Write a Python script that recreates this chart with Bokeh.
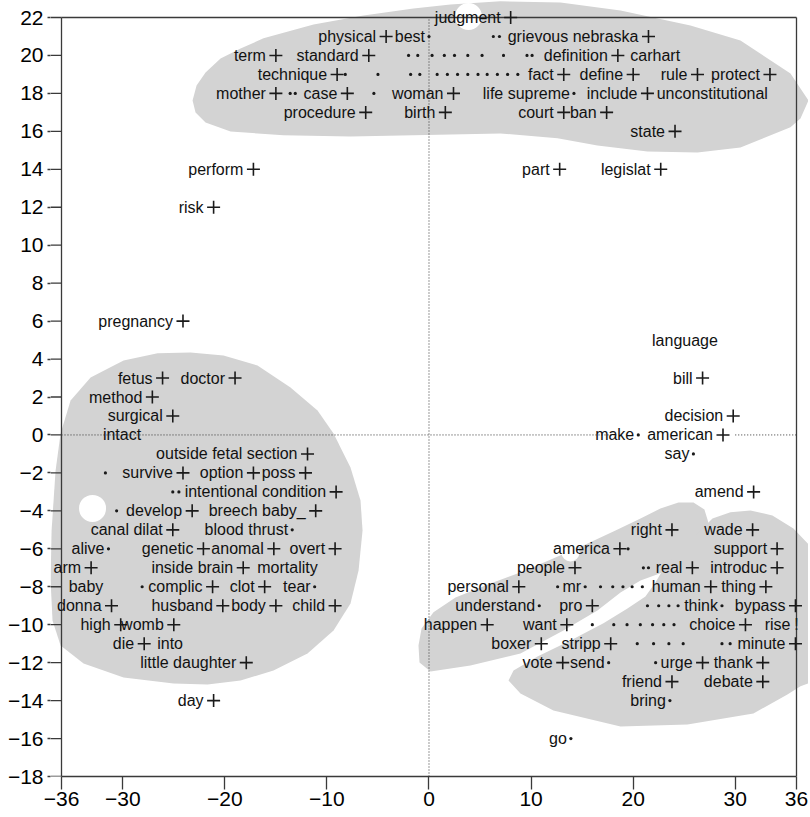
from bokeh.plotting import figure
from bokeh.models import Range1d, ColumnDataSource, LabelSet, FixedTicker
from bokeh.embed import file_html
from bokeh.resources import INLINE
from bokeh.core.properties import value

# ---------------- data ----------------
x_ticks = [-36, -30, -20, -10, 0, 10, 20, 30, 36]
y_ticks = [-18, -16, -14, -12, -10, -8, -6, -4, -2, 0, 2, 4, 6, 8, 10, 12, 14, 16, 18, 20, 22]

# word labels: text, x, y, marker ("+" cross, "." dot, "" none, "!" bang)
words = [
    "judgment",
    "physical", "best", "", "", "grievous nebraska",
    "term", "standard", "", "", "", "", "", "", "", "", "", "", "definition", "carhart",
    "technique", "", "", "", "", "", "", "", "", "", "", "", "", "", "fact", "define", "rule", "protect",
    "mother", "", "", "case", "", "woman", "life supreme", "include", "unconstitutional",
    "procedure", "birth", "court", "ban",
    "state",
    "perform", "part", "legislat",
    "risk",
    "pregnancy",
    "language",
    "fetus", "doctor", "bill",
    "method",
    "surgical", "decision",
    "intact", "make", "american",
    "outside fetal section", "say",
    "", "survive", "option", "poss",
    "", "", "intentional condition", "amend",
    "", "develop", "breech baby_",
    "canal dilat", "blood thrust", "right", "wade",
    "alive", "genetic", "anomal", "overt", "america", "", "support",
    "arm", "inside brain", "mortality", "people", "", "", "real", "introduc",
    "baby", "", "complic", "clot", "tear", "personal", "", "mr", "", "", "", "", "", "human", "thing",
    "donna", "husband", "body", "child", "understand", "pro", "", "", "", "", "think", "bypass",
    "high", "womb", "happen", "want", "", "", "", "", "", "", "", "choice", "rise",
    "die", "into", "boxer", "stripp", "", "", "", "", "", "", "minute",
    "little daughter", "vote", "send", "", "urge", "thank",
    "friend", "debate",
    "day", "bring",
    "go",
]
word_x = [
    8.0,
    -4.2, 0.0, 6.3, 6.9, 21.5,
    -15.0, -5.9, -2.0, -1.1, 0.3, 1.5, 2.5, 3.8, 5.2, 7.3, 9.6, 10.1, 18.5, 24.6,
    -9.0, -8.2, -5.0, -1.8, -0.9, 0.8, 1.8, 2.8, 3.8, 4.8, 5.7, 6.7, 7.7, 8.7, 13.2, 20.0, 26.3, 33.4,
    -15.0, -13.6, -13.1, -8.0, -5.4, 2.4, 14.2, 21.4, 33.2,
    -6.2, 1.6, 13.2, 17.4,
    24.1,
    -17.2, 12.8, 22.7,
    -21.1,
    -24.1,
    28.3,
    -26.1, -19.0, 26.8,
    -27.1,
    -25.1, 29.8,
    -28.2, 20.5, 28.8,
    -11.9, 25.9,
    -31.7, -24.1, -17.2, -12.1,
    -25.1, -24.5, -9.1, 31.8,
    -30.6, -23.2, -11.1,
    -25.1, -13.4, 23.8, 31.7,
    -31.4, -22.1, -15.2, -9.2, 18.7, 19.5, 34.1,
    -33.1, -18.2, -10.9, 14.3, 21.0, 21.5, 25.8, 34.1,
    -31.9, -28.1, -21.2, -16.1, -11.2, 8.8, 12.6, 15.3, 16.8, 18.0, 19.0, 19.9, 20.9, 27.6, 33.0,
    -31.1, -20.2, -15.0, -9.2, 10.8, 16.0, 21.4, 22.5, 23.5, 24.4, 28.7, 35.9,
    -30.2, -25.0, 5.7, 13.5, 16.0, 18.1, 19.4, 20.7, 21.9, 23.0, 24.0, 31.0, 36.0,
    -27.9, -24.1, 11.0, 17.8, 20.4, 22.0, 23.5, 24.9, 28.7, 29.5, 35.9,
    -17.9, 13.1, 17.6, 22.2, 26.8, 32.7,
    23.8, 32.7,
    -21.1, 23.6,
    13.9,
]
word_y = (
    [22]
    + [21] * 5
    + [20] * 14
    + [19] * 18
    + [18] * 9
    + [17] * 4
    + [16]
    + [14] * 3
    + [12]
    + [6]
    + [5]
    + [3] * 3
    + [2]
    + [1] * 2
    + [0] * 3
    + [-1] * 2
    + [-2] * 4
    + [-3] * 4
    + [-4] * 3
    + [-5] * 4
    + [-6] * 7
    + [-7] * 8
    + [-8] * 15
    + [-9] * 12
    + [-10] * 13
    + [-11] * 11
    + [-12] * 6
    + [-13] * 2
    + [-14] * 2
    + [-16]
)
word_mark = [
    "+",
    "+", ".", ".", ".", "+",
    "+", "+", ".", ".", ".", ".", ".", ".", ".", ".", ".", ".", "+", "",
    "+", ".", ".", ".", ".", ".", ".", ".", ".", ".", ".", ".", ".", ".", "+", "+", "+", "+",
    "+", ".", ".", "+", ".", "+", ".", "+", "",
    "+", "+", "+", "+",
    "+",
    "+", "+", "+",
    "+",
    "+",
    "",
    "+", "+", "+",
    "+",
    "+", "+",
    "", ".", "+",
    "+", ".",
    ".", "+", "+", "+",
    ".", ".", "+", "+",
    ".", "+", "+",
    "+", ".", "+", "+",
    ".", "+", "+", "+", "+", ".", "+",
    "+", "+", "", "+", ".", ".", "+", "+",
    "", ".", "+", "+", ".", "+", ".", ".", ".", ".", ".", ".", ".", "+", "+",
    "+", "+", "+", "+", ".", "+", ".", ".", ".", ".", ".", "+",
    "+", "+", "+", "+", ".", ".", ".", ".", ".", ".", ".", "+", "!",
    "+", "", "+", "+", ".", ".", ".", ".", ".", ".", "+",
    "+", "+", ".", ".", "+", "+",
    "+", "+",
    "+", ".",
    ".",
]

# cluster outlines (data units)
blob_top_x = [-23.16, -22.77, -21.89, -20.42, -18.46, -16.21, -11.31, -6.41, -1.52, 2.11, 7.00, 12.88,
              18.76, 25.61, 30.51, 35.41, 37.17, 36.39, 35.41, 30.51, 26.30, 21.40, 16.50, 12.59,
              7.00, 2.11, -7.69, -14.25, -19.44, -21.89, -22.87]
blob_top_y = [17.63, 18.42, 19.10, 19.84, 20.37, 20.90, 21.63, 22.11, 22.48, 22.69, 22.85, 22.79,
              22.37, 21.58, 20.79, 19.05, 17.63, 16.68, 16.21, 15.15, 14.89, 14.94, 15.26, 15.63,
              15.89, 15.84, 15.73, 15.79, 15.99, 16.47, 17.00]
blob_left_x = [-23.36, -20.13, -16.80, -13.57, -10.92, -9.35, -7.69, -6.71, -6.51, -6.90, -7.69, -9.35,
               -11.90, -15.23, -18.46, -21.69, -25.02, -29.92, -33.84, -36.09, -36.88, -37.07, -36.97,
               -36.58, -36.09, -35.11, -33.15, -29.92, -26.59]
blob_left_y = [4.35, 4.19, 3.66, 2.50, 1.29, 0.08, -1.71, -3.45, -5.03, -7.14, -8.88, -10.30,
               -11.52, -12.41, -12.94, -13.15, -13.10, -12.78, -12.04, -11.09, -9.78, -7.67, -5.03,
               -1.87, 0.08, 1.82, 3.03, 3.93, 4.30]
blob_ru_x = [-1.03, -0.73, 0.44, 2.60, 6.02, 9.45, 12.39, 15.33, 18.27, 20.72, 22.67, 24.44, 25.91,
             26.98, 27.37, 26.79, 25.32, 22.87, 20.72, 18.76, 16.50, 13.17, 8.96, 4.06, 0.15, -0.93]
blob_ru_y = [-11.09, -10.20, -9.35, -8.56, -7.83, -7.14, -6.46, -5.77, -5.03, -4.40, -3.87, -3.56, -3.56,
             -3.93, -4.61, -5.82, -6.72, -7.25, -7.67, -8.30, -9.25, -10.30, -11.52, -12.15, -12.46, -11.99]
blob_rl_x = [26.10, 27.77, 29.53, 31.49, 33.64, 35.70, 37.56, 37.85, 37.85, 36.39, 35.11, 31.78, 25.32,
             18.76, 12.19, 8.96, 7.79, 8.28, 10.63, 13.86, 17.09, 19.44, 21.20, 22.18, 22.87, 24.14]
blob_rl_y = [-5.30, -4.40, -4.08, -3.98, -4.24, -4.93, -5.98, -8.72, -12.94, -13.25, -13.68, -14.68, -15.26,
             -15.36, -14.52, -13.62, -12.94, -12.41, -11.67, -10.83, -9.93, -9.14, -8.51, -7.77, -7.14, -6.35]
hole_x = [3.87, -32.96, 13.86]
hole_y = [22.05, -3.87, -6.19]

x_lo, x_hi = -36, 36
y_lo, y_hi = -18, 22
x_start, x_end = -37.078, 37.176
y_start, y_end = -18, 22.896
zero_gap = (18.4, 30.0)

# ---------------- figure ----------------
FONT = "Liberation Sans"
AX = "#3a3a3a"
p = figure(width=808, height=815,
           x_range=Range1d(x_start, x_end), y_range=Range1d(y_start, y_end),
           output_backend="svg", toolbar_location=None,
           min_border_left=50, min_border_right=0, min_border_top=0, min_border_bottom=39)
p.background_fill_color = "white"
p.border_fill_color = "white"
p.outline_line_color = None
p.xgrid.visible = False
p.ygrid.visible = False

p.xaxis.ticker = FixedTicker(ticks=x_ticks)
p.yaxis.ticker = FixedTicker(ticks=y_ticks)
p.xaxis.bounds = (x_lo, x_hi)
p.yaxis.bounds = (y_lo, y_hi)
for ax in (p.xaxis, p.yaxis):
    ax.axis_line_color = AX
    ax.axis_line_width = 1.3
    ax.major_tick_line_color = AX
    ax.major_tick_line_width = 1.3
    ax.minor_tick_line_color = None
    ax.major_tick_in = 0
    ax.major_label_text_font = FONT
    ax.major_label_text_font_size = "21px"
    ax.major_label_text_color = "black"
p.xaxis.major_tick_out = 13
p.xaxis.major_label_standoff = 2
# y axis sits at the frame edge; its line and the rest of its ticks are drawn at x = -36 below
p.yaxis.axis_line_color = None
p.yaxis.major_tick_out = 3
p.yaxis.major_label_standoff = 4

GRAY = "#d3d3d3"
p.patches(xs=[blob_top_x, blob_left_x, blob_ru_x, blob_rl_x],
          ys=[blob_top_y, blob_left_y, blob_ru_y, blob_rl_y],
          fill_color=GRAY, line_color=None)
p.scatter(x=hole_x[:2], y=hole_y[:2], marker="circle", size=27, fill_color="white", line_color=None)
p.scatter(x=hole_x[2:], y=hole_y[2:], marker="circle", size=18, fill_color="white", line_color=None)

# dotted zero lines
p.line(x=[x_lo, zero_gap[0]], y=[0, 0], line_dash="1 2", line_color="#333333", line_width=1)
p.line(x=[zero_gap[1], x_hi], y=[0, 0], line_dash="1 2", line_color="#333333", line_width=1)
p.line(x=[0, 0], y=[y_lo, y_hi], line_dash="1 2", line_color="#333333", line_width=1)
# frame: left axis line with tick stubs, top and right lines
p.segment(x0=[x_start] * len(y_ticks), y0=y_ticks, x1=[x_lo] * len(y_ticks), y1=y_ticks,
          line_color=AX, line_width=1.3)
p.line(x=[x_lo, x_lo], y=[y_lo, y_hi], line_color=AX, line_width=1.3)
p.line(x=[x_lo, x_hi], y=[y_hi, y_hi], line_color=AX, line_width=1.3)
p.line(x=[x_hi, x_hi], y=[y_lo, y_hi], line_color=AX, line_width=1.3)

plus_x = [x for x, m in zip(word_x, word_mark) if m == "+"]
plus_y = [y for y, m in zip(word_y, word_mark) if m == "+"]
dot_x = [x for x, m in zip(word_x, word_mark) if m == "."]
dot_y = [y for y, m in zip(word_y, word_mark) if m == "."]
bang_x = [x for x, m in zip(word_x, word_mark) if m == "!"]
bang_y = [y for y, m in zip(word_y, word_mark) if m == "!"]

p.scatter(x=plus_x, y=plus_y, marker="cross", size=13, line_width=1.6, line_color="#1a1a1a")
p.scatter(x=dot_x, y=dot_y, marker="circle", size=3.2, fill_color="#1a1a1a", line_color=None)
p.text(x=bang_x, y=bang_y, text=["!"] * len(bang_x), text_align="center", text_baseline="middle",
       text_font=value(FONT), text_font_size=value("16px"), text_color="#1a1a1a")

offset_of = {"+": -10, ".": -4, "": 0, "!": -6}
lab = [(w, x, y, offset_of[m]) for w, x, y, m in zip(words, word_x, word_y, word_mark) if w]
src = ColumnDataSource(data=dict(word=[a[0] for a in lab], x=[a[1] for a in lab],
                                 y=[a[2] for a in lab], xo=[a[3] for a in lab]))
labels = LabelSet(x="x", y="y", text="word", source=src, x_offset="xo",
                  text_align="right", text_baseline="middle",
                  text_font=value(FONT), text_font_size=value("16px"), text_color="#111111")
p.add_layout(labels)

open("out.html", "w").write(file_html(p, INLINE))
